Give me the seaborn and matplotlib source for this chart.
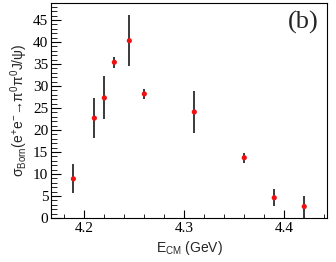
import numpy as np
import pandas as pd
import matplotlib
matplotlib.use('Agg')
import matplotlib.pyplot as plt
import seaborn as sns
from matplotlib.ticker import MultipleLocator

# data
energy = [4.189, 4.210, 4.220, 4.230, 4.245, 4.260, 4.310, 4.360, 4.390, 4.420]
xsec = [8.9, 22.7, 27.3, 35.4, 40.3, 28.2, 24.1, 13.7, 4.6, 2.6]
err = [3.3, 4.5, 4.9, 1.2, 5.8, 1.2, 4.8, 1.1, 1.9, 2.5]

df = pd.DataFrame({'E': energy, 'sigma': xsec, 'err': err})

sns.set_theme(style='ticks')
plt.rcParams['font.family'] = ['Liberation Serif', 'DejaVu Serif']
plt.rcParams['mathtext.fontset'] = 'custom'
plt.rcParams['mathtext.rm'] = 'Liberation Sans'
plt.rcParams['mathtext.it'] = 'Liberation Sans:italic'
plt.rcParams['mathtext.sf'] = 'Liberation Sans'

fig = plt.figure(figsize=(3.36, 2.62), dpi=100)
ax = fig.add_axes([0.152, 0.168, 0.821, 0.821])

ax.errorbar(df['E'], df['sigma'], yerr=df['err'], fmt='none',
            ecolor='#3a3a3a', elinewidth=1.4, capsize=0, zorder=2)
sns.scatterplot(data=df, x='E', y='sigma', ax=ax, color='#ee1111',
                s=14, edgecolor='none', zorder=3, legend=False)

ax.set_xlim(4.1667, 4.4427)
ax.set_ylim(0, 48.9)
ax.xaxis.set_major_locator(MultipleLocator(0.1))
ax.xaxis.set_minor_locator(MultipleLocator(0.02))
ax.yaxis.set_major_locator(MultipleLocator(5))
ax.yaxis.set_minor_locator(MultipleLocator(1))
ax.tick_params(which='both', direction='in', colors='black', labelsize=11,
               top=False, right=False, pad=2)
ax.tick_params(axis='y', which='major', length=7, width=0.8)
ax.tick_params(axis='y', which='minor', length=4, width=0.6)
ax.tick_params(axis='x', which='major', length=6, width=0.8, pad=3)
ax.tick_params(axis='x', which='minor', length=3, width=0.6)
for s in ax.spines.values():
    s.set_linewidth(0.8)
    s.set_color('black')

ax.set_xlabel(r'E$_{\rm CM}$ (GeV)', family=['Liberation Sans', 'DejaVu Sans'],
              fontsize=10, labelpad=3)
ax.set_ylabel(r'σ$_{\rm Born}$(e$^{+}$e$^{-}$→π$^{0}$π$^{0}$J/ψ)',
              family=['Liberation Sans', 'DejaVu Sans'], fontsize=10, labelpad=2)
ax.text(0.97, 0.965, '(b)', transform=ax.transAxes, ha='right', va='top',
        fontsize=19, family=['Liberation Serif'])

fig.savefig('out.png', dpi=100)
plt.close(fig)
